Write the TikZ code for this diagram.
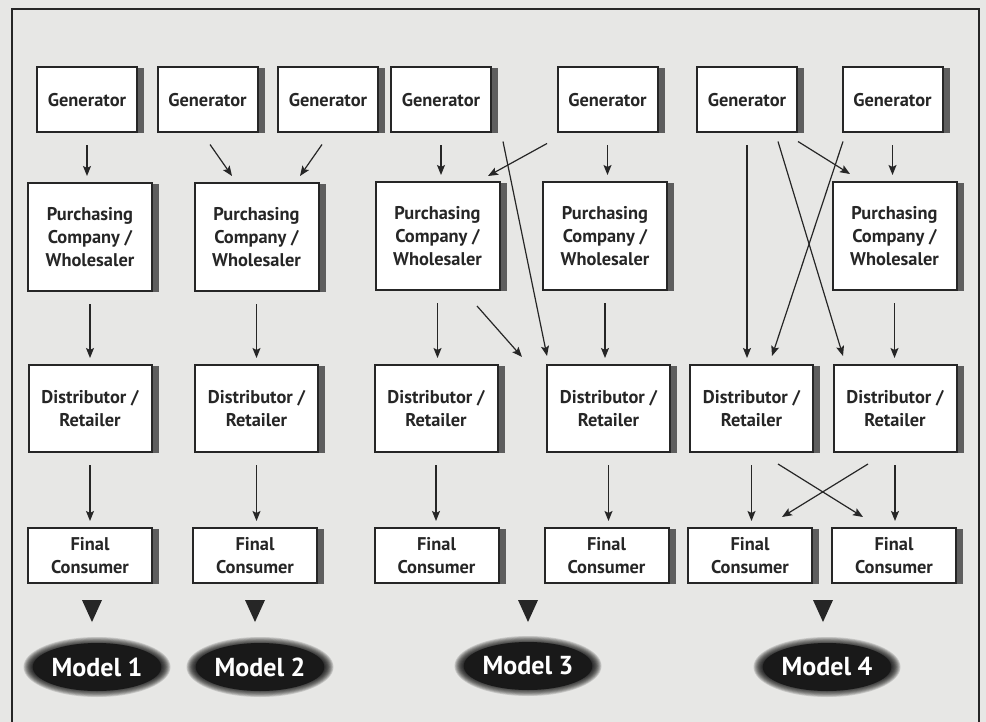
\documentclass[tikz,border=0pt]{standalone}
\usepackage{fontspec}
\setmainfont{PT Sans}
\usetikzlibrary{arrows.meta,shadows,shapes.geometric}

\definecolor{paper}{HTML}{E7E7E5}
\definecolor{ink}{HTML}{262626}
\definecolor{shade}{HTML}{5E5E5E}

\tikzset{
  box/.style={draw=ink, line width=1pt, fill=white, align=center, inner sep=0pt,
    text=ink, font=\bfseries\fontsize{9.2}{11.5}\selectfont,
    drop shadow={shadow xshift=3.5pt, shadow yshift=-0.5pt, fill=shade, opacity=1}},
  gen/.style={box, minimum width=50pt, minimum height=32.5pt},
  pur/.style={box, minimum width=62pt, minimum height=54pt},
  dis/.style={box, minimum width=61.5pt, minimum height=43.5pt},
  fin/.style={box, minimum width=62pt, minimum height=27.5pt},
  flow/.style={draw=ink, line width=0.6pt, -{Stealth[length=5pt,width=4pt,inset=1pt]},
    shorten <=6pt, shorten >=3pt},
  link/.style={draw=ink, line width=0.6pt, -{Stealth[length=5pt,width=4pt,inset=1pt]}},
  model/.style={ellipse, fill=black!90, inner sep=0pt, minimum width=64pt, minimum height=24pt,
    text=white, font=\bfseries\fontsize{13}{15}\selectfont}
}

\begin{document}
\begin{tikzpicture}[x=0.5pt,y=-0.5pt]
  \useasboundingbox (0,0) rectangle (986,722);
  \fill[paper] (0,0) rectangle (986,722);
  \draw[ink, line width=1pt] (12,722) -- (12,9) -- (979,9) -- (979,722);

  % Generators
  \node[gen] (gen1) at (87,100) {Generator};
  \node[gen] (gen2) at (207.5,100) {Generator};
  \node[gen] (gen3) at (328,100) {Generator};
  \node[gen] (gen4) at (441,100) {Generator};
  \node[gen] (gen5) at (607.5,100) {Generator};
  \node[gen] (gen6) at (747,100) {Generator};
  \node[gen] (gen7) at (892.5,100) {Generator};

  % Purchasing companies
  \node[pur] (pur1) at (90,237) {Purchasing\\Company /\\Wholesaler};
  \node[pur] (pur2) at (256.5,237) {Purchasing\\Company /\\Wholesaler};
  \node[pur] (pur3) at (437.5,236) {Purchasing\\Company /\\Wholesaler};
  \node[pur] (pur4) at (605,236) {Purchasing\\Company /\\Wholesaler};
  \node[pur] (pur5) at (894.5,236) {Purchasing\\Company /\\Wholesaler};

  % Distributors
  \node[dis] (dis1) at (90,408.5) {Distributor /\\Retailer};
  \node[dis] (dis2) at (256.5,408.5) {Distributor /\\Retailer};
  \node[dis] (dis3) at (436,408.5) {Distributor /\\Retailer};
  \node[dis] (dis4) at (608.5,408.5) {Distributor /\\Retailer};
  \node[dis] (dis5) at (751.5,408.5) {Distributor /\\Retailer};
  \node[dis] (dis6) at (895,408.5) {Distributor /\\Retailer};

  % Final consumers
  \node[fin] (fin1) at (90,555.5) {Final\\Consumer};
  \node[fin] (fin2) at (255,555.5) {Final\\Consumer};
  \node[fin] (fin3) at (436.5,555.5) {Final\\Consumer};
  \node[fin] (fin4) at (606.5,555.5) {Final\\Consumer};
  \node[fin] (fin5) at (750,555.5) {Final\\Consumer};
  \node[fin] (fin6) at (894,555.5) {Final\\Consumer};

  % Straight flows
  \foreach \a/\b in {gen1/pur1, pur1/dis1, dis1/fin1, pur2/dis2, dis2/fin2,
      gen4/pur3, pur3/dis3, dis3/fin3, gen5/pur4, pur4/dis4, dis4/fin4,
      gen6/dis5, gen7/pur5, pur5/dis6, dis5/fin5, dis6/fin6}
    \draw[flow] (\a.south) -- (\a.south |- \b.north);

  % Crossing flows
  \draw[link] ([xshift=1.25pt,yshift=-5.5pt]gen2.south) -- ([xshift=-12.25pt,yshift=3pt]pur2.north);
  \draw[link] ([xshift=-3pt,yshift=-5.5pt]gen3.south) -- ([xshift=21.75pt,yshift=3pt]pur2.north);
  \draw[link] ([xshift=-30.25pt,yshift=-5pt]gen5.south) -- ([xshift=25.25pt,yshift=2.5pt]pur3.north);
  \draw[link] ([xshift=31pt,yshift=-4pt]gen4.south) -- ([xshift=-30.75pt,yshift=4pt]dis4.north);
  \draw[link] ([xshift=19.75pt,yshift=-7.5pt]pur3.south) -- ([xshift=-43.25pt,yshift=3.5pt]dis4.north);
  \draw[link] ([xshift=15.5pt,yshift=-4pt]gen6.south) -- ([xshift=-26pt,yshift=4pt]dis6.north);
  \draw[link] ([xshift=25.5pt,yshift=-4pt]gen6.south) -- ([xshift=-22.25pt,yshift=3.5pt]pur5.north);
  \draw[link] ([xshift=-24.75pt,yshift=-4pt]gen7.south) -- ([xshift=10.25pt,yshift=4pt]dis5.north);
  \draw[link] ([xshift=13.25pt,yshift=-5.5pt]dis5.south) -- ([xshift=-15.5pt,yshift=5pt]fin6.north);
  \draw[link] ([xshift=-13.5pt,yshift=-5.5pt]dis6.south) -- ([xshift=16pt,yshift=5pt]fin5.north);

  % Pointers
  \foreach \x in {92,255,528,823}
    \fill[ink] (\x-10,600) -- (\x+10,600) -- (\x,622) -- cycle;

  % Models
  \foreach \n/\x/\y in {1/97/667, 2/260/667, 3/528/666, 4/827/667} {
    \foreach \k in {0,...,9}
      \fill[black, opacity=0.14] (\x,\y) ellipse [x radius=73.5-\k*0.9, y radius=30-\k*0.9];
    \node[model] (model\n) at (\x,\y) {Model \n};
  }
\end{tikzpicture}
\end{document}
